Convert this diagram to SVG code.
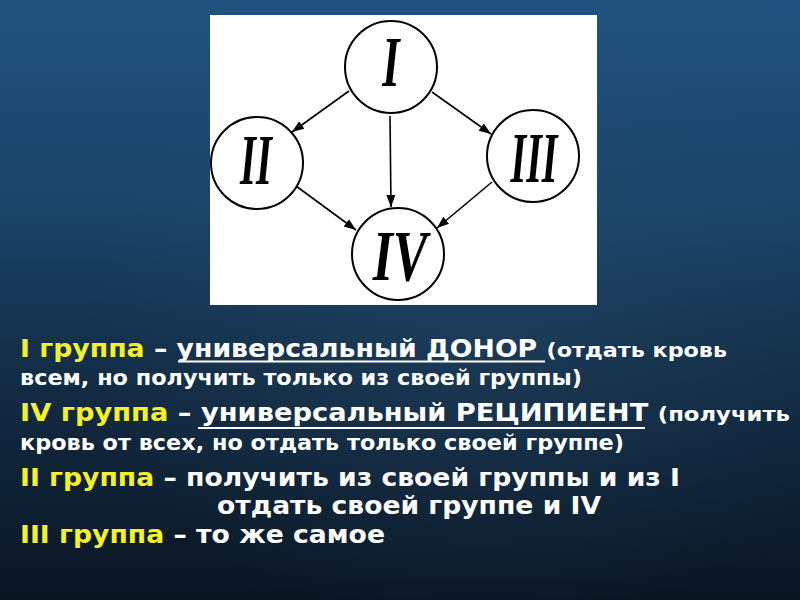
<svg xmlns="http://www.w3.org/2000/svg" width="800" height="600" viewBox="0 0 800 600">
<defs>
<linearGradient id="bg" x1="0" y1="0" x2="0" y2="1">
<stop offset="0" stop-color="#21527f"/>
<stop offset="0.35" stop-color="#1b4468"/>
<stop offset="0.6" stop-color="#132e48"/>
<stop offset="0.85" stop-color="#0d1e30"/>
<stop offset="1" stop-color="#0a1622"/>
</linearGradient>
<radialGradient id="glow" cx="0.6" cy="0.55" r="0.5">
<stop offset="0" stop-color="#2a5070" stop-opacity="0.35"/>
<stop offset="1" stop-color="#2a5070" stop-opacity="0"/>
</radialGradient>
<marker id="arr" markerWidth="13" markerHeight="10" refX="12" refY="4.5" orient="auto" markerUnits="userSpaceOnUse">
<path d="M0,0 L12,4.5 L0,9 z" fill="#000"/>
</marker>
</defs>
<style>
.node circle{fill:#fff;stroke:#000;stroke-width:2}
.lbl{font-family:"Liberation Serif",serif;font-style:italic;font-weight:bold;font-size:72px;fill:#000;text-anchor:middle}
.conn line{stroke:#000;stroke-width:1.6;marker-end:url(#arr)}
.t{font-family:"DejaVu Sans",sans-serif;font-weight:bold;fill:#fff}
.m{font-size:24px}
.p{font-size:21px}
.p2{font-size:20px}
.y{fill:#f4f02a}
.ul{stroke:#fff;stroke-width:2}
</style>
<rect width="800" height="600" fill="url(#bg)"/>
<rect width="800" height="600" fill="url(#glow)"/>
<rect x="210" y="15" width="387" height="290" fill="#fff"/>
<g id="connectors" class="conn">
<line x1="349" y1="91" x2="292" y2="132"/>
<line x1="390" y1="116" x2="391" y2="207"/>
<line x1="432" y1="92" x2="491" y2="134"/>
<line x1="296" y1="186" x2="356" y2="230"/>
<line x1="492" y1="182" x2="437" y2="228"/>
</g>
<g id="node-I" class="node">
<circle cx="391" cy="67" r="46"/>
<text class="lbl" transform="translate(391,86) scale(0.62,1)">I</text>
</g>
<g id="node-II" class="node">
<circle cx="257" cy="163" r="46"/>
<text class="lbl" transform="translate(256,184) scale(0.57,1)">II</text>
</g>
<g id="node-III" class="node">
<circle cx="533" cy="156" r="46"/>
<text class="lbl" transform="translate(534,182) scale(0.56,1)">III</text>
</g>
<g id="node-IV" class="node">
<circle cx="398" cy="254" r="46"/>
<text class="lbl" transform="translate(400,280) scale(0.72,1)">IV</text>
</g>
<g id="text">
<text class="t m" x="20" y="357" textLength="707" lengthAdjust="spacingAndGlyphs"><tspan class="y">I группа</tspan> – универсальный ДОНОР <tspan class="p2">(отдать кровь</tspan></text>
<text class="t p" x="20" y="385" textLength="562" lengthAdjust="spacingAndGlyphs">всем, но получить только из своей группы)</text>
<text class="t m" x="20" y="421" textLength="770" lengthAdjust="spacingAndGlyphs"><tspan class="y">IV группа</tspan> – универсальный РЕЦИПИЕНТ <tspan class="p2">(получить</tspan></text>
<text class="t p" x="20" y="450" textLength="604" lengthAdjust="spacingAndGlyphs">кровь от всех, но отдать только своей группе)</text>
<text class="t m" x="20" y="486" textLength="660" lengthAdjust="spacingAndGlyphs"><tspan class="y">II группа</tspan> – получить из своей группы и из I</text>
<text class="t m" x="217" y="514" textLength="384" lengthAdjust="spacingAndGlyphs">отдать своей группе и IV</text>
<text class="t m" x="20" y="543" textLength="365" lengthAdjust="spacingAndGlyphs"><tspan class="y">III группа</tspan> – то же самое</text>
<line class="ul" x1="178" y1="361.5" x2="545" y2="361.5"/>
<line class="ul" x1="198" y1="428" x2="645" y2="428"/>
</g>
</svg>
